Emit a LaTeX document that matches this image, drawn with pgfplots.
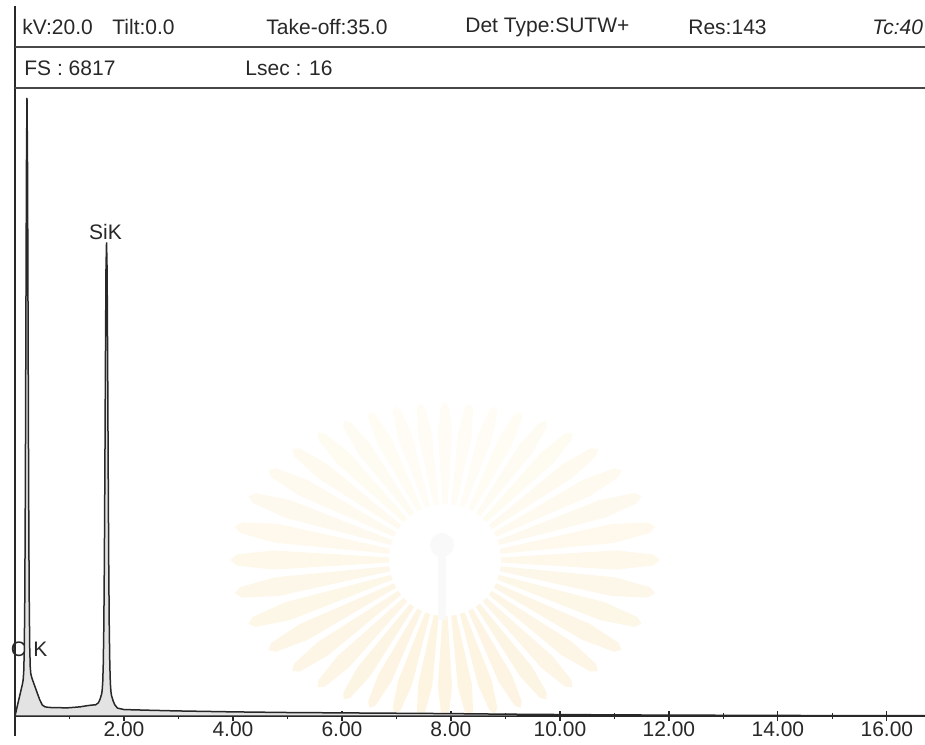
\documentclass[border=0pt]{standalone}
\usepackage{fontspec}
\setmainfont{Liberation Sans}
\usepackage{pgfplots}
\pgfplotsset{compat=1.18}

\definecolor{wmTop}{RGB}{254,252,244}
\definecolor{wmBot}{RGB}{253,244,226}
\definecolor{ink}{RGB}{40,40,40}

\begin{document}
\begin{tikzpicture}[x=0.5pt,y=-0.5pt]
\useasboundingbox (0,0) rectangle (925,744);
\coordinate (plotorigin) at (15,716);

% faint seal in the background of the plot area
\begin{scope}
  \clip (16,90) rectangle (925,712);
  \begin{scope}[shift={(445,560)}]
    \foreach \a in {0,9,...,351}{
      \pgfmathsetmacro{\m}{50+50*sin(\a)}
      \pgfmathsetmacro{\R}{100*2.15*1.58/sqrt((1.58*cos(\a))^2+(2.15*sin(\a))^2)}
      \fill[color=wmBot!\m!wmTop]
        (\a-2.6:56) -- (\a-3.2:0.8*\R) -- (\a-1.5:0.97*\R) -- (\a:\R) --
        (\a+1.5:0.97*\R) -- (\a+3.2:0.8*\R) -- (\a+2.6:56) -- cycle;
    }
    \fill[black!2.5] (-3,-15) circle (12);
    \fill[black!2.5] (-7,-5) rectangle (1,60);
  \end{scope}
\end{scope}

% header frame
\draw[line width=0.8pt, ink] (15,6) -- (15,736);
\draw[line width=0.8pt, ink!85] (15,47) -- (925,47);
\draw[line width=0.8pt, ink!85] (15,88) -- (925,88);

\begin{scope}[every node/.style={anchor=west, inner sep=0pt, text=ink,
    font=\fontsize{10.5}{12}\selectfont}]
  \node at (22,27) {kV:20.0};
  \node at (112,27) {Tilt:0.0};
  \node at (266,27) {Take-off:35.0};
  \node at (465,27) {Det Type:SUTW+};
  \node at (688,27) {Res:143};
  \node at (872,27) {\itshape Tc:40};
  \node at (24,68) {FS : 6817};
  \node at (245,68) {Lsec : 16};
\end{scope}

\begin{axis}[
  at={(plotorigin)}, anchor=south west,
  scale only axis, width=455pt, height=314pt,
  xmin=0, xmax=16.7, ymin=0, ymax=6817,
  axis x line*=bottom, hide y axis,
  x axis line style={-, line width=0.8pt, ink},
  xtick={2,4,...,16},
  minor xtick={1,3,...,15},
  tick align=center,
  major tick length=5pt, minor tick length=3pt,
  tick style={line width=0.6pt, ink},
  xticklabel style={/pgf/number format/fixed,
    /pgf/number format/fixed zerofill,
    /pgf/number format/precision=2,
    /pgf/number format/assume math mode=true,
    inner sep=1pt, yshift=1pt,
    font=\fontsize{10.5}{12}\selectfont, text=ink},
  clip=false,
]
% EDS spectrum: energy (keV) vs counts
\addplot[fill=gray!22, draw=ink, line width=0.75pt] coordinates {
  (0.00,0) (0.01,25) (0.04,102) (0.08,204) (0.12,305) (0.14,356)
  (0.15,395) (0.16,475) (0.17,703) (0.18,1290) (0.19,2481) (0.20,4239)
  (0.21,5962) (0.22,6710) (0.23,5971) (0.24,4257) (0.25,2508)
  (0.26,1326) (0.27,748) (0.28,529) (0.29,458) (0.31,412) (0.35,346)
  (0.40,264) (0.45,182) (0.50,120) (0.55,100) (0.60,95) (0.70,90)
  (0.80,92) (0.90,88) (1.00,90) (1.10,95) (1.20,100) (1.30,110)
  (1.40,118) (1.48,122) (1.53,143) (1.56,181) (1.59,239) (1.60,281)
  (1.61,367) (1.62,564) (1.63,966) (1.64,1678) (1.65,2708)
  (1.66,3886) (1.67,4853) (1.68,5140) (1.69,4848) (1.70,3880)
  (1.71,2700) (1.72,1670) (1.73,955) (1.74,555) (1.75,355)
  (1.76,270) (1.77,225) (1.80,166) (1.83,123) (1.88,86) (2.00,70)
  (2.50,62) (3.00,55) (3.50,50) (4.00,45) (5.00,38) (6.00,34)
  (7.00,30) (8.00,26) (9.00,20) (10.00,16) (11.00,12) (12.00,10)
  (13.00,8) (14.00,6) (15.00,5) (16.00,4) (16.70,4)
} \closedcycle;

\node[text=ink, font=\fontsize{10.5}{12}\selectfont] at (axis cs:1.66,5250) {SiK};
\node[text=ink, font=\fontsize{10.5}{12}\selectfont] at (axis cs:0.26,720) {C\hspace{0.35em}K};
\end{axis}
\end{tikzpicture}
\end{document}
